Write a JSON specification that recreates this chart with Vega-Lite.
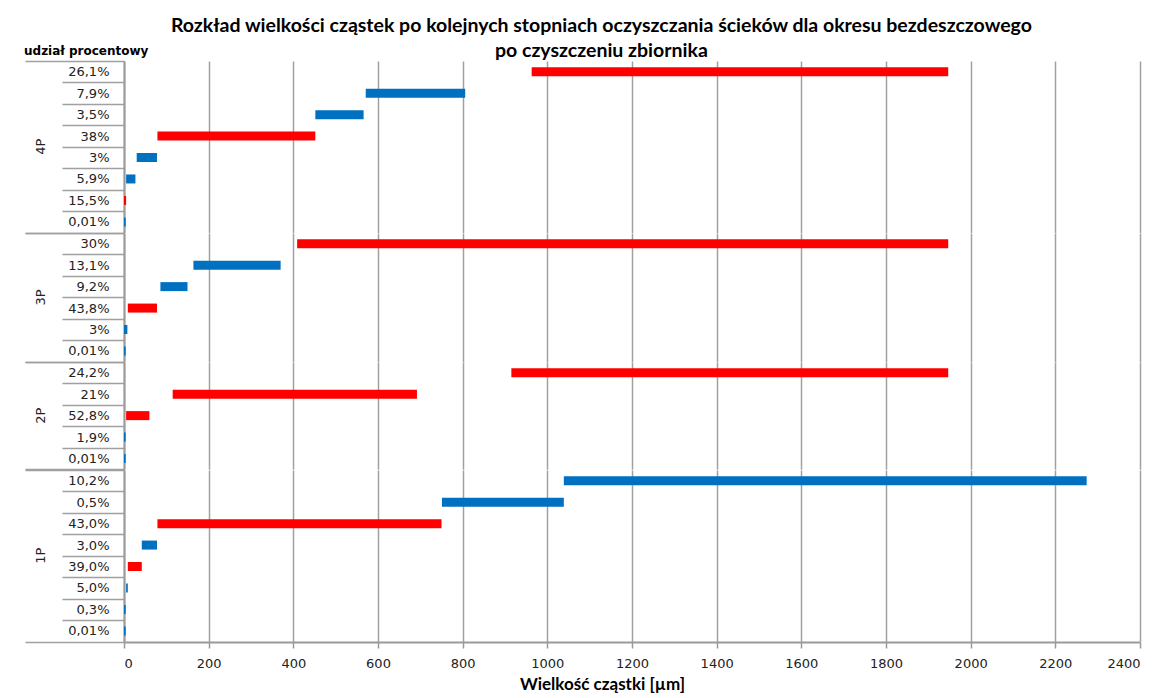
{
  "$schema": "https://vega.github.io/schema/vega-lite/v6.json",
  "padding": {"left": 24, "top": 15, "right": 15, "bottom": 2},
  "title": {
    "text": ["Rozkład wielkości cząstek po kolejnych stopniach oczyszczania ścieków dla okresu bezdeszczowego", "po czyszczeniu zbiornika"],
    "font": "Lato",
    "fontSize": 19.5,
    "fontWeight": "bold",
    "lineHeight": 25,
    "color": "#000",
    "anchor": "middle",
    "offset": -16,
    "dx": 19
  },
  "data": {
    "values": [
      {"grupa": "4P", "kolejnosc": 1, "udzial": "26,1%", "od": 963, "do": 1947, "seria": "A"},
      {"grupa": "4P", "kolejnosc": 2, "udzial": "7,9%", "od": 571, "do": 806, "seria": "B"},
      {"grupa": "4P", "kolejnosc": 3, "udzial": "3,5%", "od": 452, "do": 566, "seria": "B"},
      {"grupa": "4P", "kolejnosc": 4, "udzial": "38%", "od": 79, "do": 452, "seria": "A"},
      {"grupa": "4P", "kolejnosc": 5, "udzial": "3%", "od": 30, "do": 78, "seria": "B"},
      {"grupa": "4P", "kolejnosc": 6, "udzial": "5,9%", "od": 5, "do": 27, "seria": "B"},
      {"grupa": "4P", "kolejnosc": 7, "udzial": "15,5%", "od": 0, "do": 5, "seria": "A"},
      {"grupa": "4P", "kolejnosc": 8, "udzial": "0,01%", "od": 0, "do": 4, "seria": "B"},
      {"grupa": "3P", "kolejnosc": 1, "udzial": "30%", "od": 409, "do": 1947, "seria": "A"},
      {"grupa": "3P", "kolejnosc": 2, "udzial": "13,1%", "od": 164, "do": 370, "seria": "B"},
      {"grupa": "3P", "kolejnosc": 3, "udzial": "9,2%", "od": 86, "do": 150, "seria": "B"},
      {"grupa": "3P", "kolejnosc": 4, "udzial": "43,8%", "od": 9, "do": 78, "seria": "A"},
      {"grupa": "3P", "kolejnosc": 5, "udzial": "3%", "od": 0, "do": 8, "seria": "B"},
      {"grupa": "3P", "kolejnosc": 6, "udzial": "0,01%", "od": 0, "do": 4, "seria": "B"},
      {"grupa": "2P", "kolejnosc": 1, "udzial": "24,2%", "od": 915, "do": 1947, "seria": "A"},
      {"grupa": "2P", "kolejnosc": 2, "udzial": "21%", "od": 115, "do": 692, "seria": "A"},
      {"grupa": "2P", "kolejnosc": 3, "udzial": "52,8%", "od": 5, "do": 60, "seria": "A"},
      {"grupa": "2P", "kolejnosc": 4, "udzial": "1,9%", "od": 0, "do": 4, "seria": "B"},
      {"grupa": "2P", "kolejnosc": 5, "udzial": "0,01%", "od": 0, "do": 4, "seria": "B"},
      {"grupa": "1P", "kolejnosc": 1, "udzial": "10,2%", "od": 1039, "do": 2274, "seria": "B"},
      {"grupa": "1P", "kolejnosc": 2, "udzial": "0,5%", "od": 751, "do": 1039, "seria": "B"},
      {"grupa": "1P", "kolejnosc": 3, "udzial": "43,0%", "od": 79, "do": 750, "seria": "A"},
      {"grupa": "1P", "kolejnosc": 4, "udzial": "3,0%", "od": 42, "do": 78, "seria": "B"},
      {"grupa": "1P", "kolejnosc": 5, "udzial": "39,0%", "od": 9, "do": 42, "seria": "A"},
      {"grupa": "1P", "kolejnosc": 6, "udzial": "5,0%", "od": 5, "do": 9, "seria": "B"},
      {"grupa": "1P", "kolejnosc": 7, "udzial": "0,3%", "od": 0, "do": 4, "seria": "B"},
      {"grupa": "1P", "kolejnosc": 8, "udzial": "0,01%", "od": 0, "do": 4, "seria": "B"}
    ]
  },
  "facet": {
    "row": {
      "field": "grupa",
      "type": "nominal",
      "sort": ["4P", "3P", "2P", "1P"],
      "title": "udział procentowy",
      "header": {
        "labelAngle": -90,
        "labelOrient": "left",
        "labelFont": "DejaVu Sans",
        "labelFontSize": 13,
        "labelColor": "#222",
        "labelPadding": 70,
        "titleOrient": "top",
        "titleAngle": 0,
        "titleAnchor": "start",
        "titlePadding": -9,
        "titleFont": "DejaVu Sans",
        "titleFontSize": 12,
        "titleFontWeight": "bold",
        "titleColor": "#000"
      }
    }
  },
  "spacing": {"row": 0},
  "bounds": "flush",
  "resolve": {"scale": {"y": "independent"}},
  "spec": {
    "width": 1016,
    "height": {"step": 21.45},
    "mark": {"type": "bar", "size": 9},
    "encoding": {
      "y": {
        "field": "udzial",
        "type": "nominal",
        "sort": {"field": "kolejnosc"},
        "scale": {"paddingInner": 0, "paddingOuter": 0},
        "axis": {
          "title": null,
          "tickBand": "extent",
          "tickSize": {"condition": {"test": "datum.index < 0 || datum.index === 1", "value": 99}, "value": 62},
          "labelPadding": {"condition": {"test": "datum.index < 0 || datum.index === 1", "value": -84}, "value": -47},
          "tickColor": "#a0a0a0",
          "tickWidth": 1.5,
          "domainColor": "#9a9a9a",
          "domainWidth": 2,
          "labelFont": "DejaVu Sans",
          "labelFontSize": 13,
          "labelColor": "#222",
          "labelAlign": "right",
          "labelBaseline": "middle"
        }
      },
      "x": {
        "field": "od",
        "type": "quantitative",
        "scale": {"domain": [0, 2400], "nice": false},
        "axis": {
          "values": [0, 200, 400, 600, 800, 1000, 1200, 1400, 1600, 1800, 2000, 2200, 2400],
          "format": "d",
          "grid": true,
          "gridColor": "#a0a0a0",
          "gridWidth": 1.5,
          "domainColor": "#9a9a9a",
          "domainWidth": 2,
          "tickColor": "#9a9a9a",
          "tickWidth": 1.5,
          "tickSize": 6,
          "labelFont": "DejaVu Sans",
          "labelFontSize": 13,
          "labelColor": "#222",
          "labelPadding": 9,
          "titleFont": "Lato",
          "titleFontSize": 17,
          "titleFontWeight": "bold",
          "titleColor": "#000",
          "titlePadding": 6,
          "titleX": 478
        },
        "title": "Wielkość cząstki [µm]"
      },
      "x2": {"field": "do"},
      "color": {
        "field": "seria",
        "type": "nominal",
        "scale": {"domain": ["A", "B"], "range": ["#FF0000", "#0070C0"]},
        "legend": null
      }
    }
  },
  "config": {"view": {"stroke": null}}
}
